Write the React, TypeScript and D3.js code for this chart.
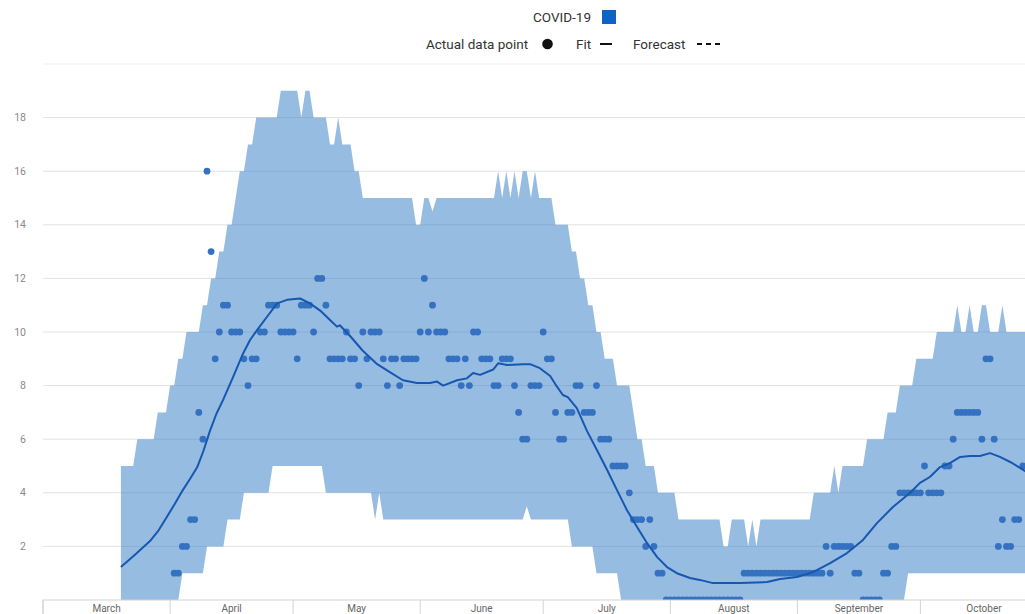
import React from "react";
import * as d3 from "d3";

// ---------- data (day offsets are counted from 1 March 2020) ----------
const START = Date.UTC(2020, 2, 1);
const END = Date.UTC(2020, 10, 1);
const DAY = 864e5;

const monthNames = ["March", "April", "May", "June", "July", "August", "September", "October"];
const yTickValues = [2, 4, 6, 8, 10, 12, 14, 16, 18];
const gridValues = [2, 4, 6, 8, 10, 12, 14, 16, 18, 20];

// prediction band, daily, as [value, number of days] runs starting at bandStartDay
const bandStartDay = 19;
const upperRuns: [number, number][] = [
  [5, 4], [6, 5], [7, 3], [8, 2], [9, 2], [10, 4], [11, 2], [12, 2], [13, 2], [14, 2],
  [15, 1], [16, 2], [17, 2], [18, 6], [19, 5], [18, 1], [19, 2], [18, 4], [17, 2], [18, 1],
  [17, 3], [16, 2], [15, 13], [14, 2], [15, 2], [14.5, 1], [15, 15],
  [16, 1], [15, 1], [16, 1], [15, 1], [16, 1], [15, 1], [16, 2], [15, 1], [16, 1],
  [15, 4], [14, 4], [13, 2], [12, 2], [11, 2], [10, 2], [9, 3], [8, 4], [7, 1], [6, 2],
  [5, 3], [4, 5], [3, 11], [2, 2], [3, 4], [2, 1], [3, 1], [2, 1], [3, 13], [4, 5],
  [5, 1], [4, 1], [5, 6], [6, 5], [7, 3], [8, 4], [9, 5], [10, 5], [11, 1], [10, 2],
  [11, 1], [10, 2], [11, 2], [10, 3], [11, 1], [10, 11],
];
const lowerRuns: [number, number][] = [
  [0, 15], [1, 6], [2, 5], [3, 4], [4, 7], [5, 13], [4, 12], [3, 1], [4, 1], [3, 35],
  [3.5, 1], [3, 10], [2, 6], [1, 6], [0, 70], [1, 35],
];

// actual daily counts, starting at actualStartDay
const actualStartDay = 32;
const actualValues = [
  1, 1, 2, 2, 3, 3, 7, 6, 16, 13,
  9, 10, 11, 11, 10, 10, 10, 9, 8, 9,
  9, 10, 10, 11, 11, 11, 10, 10, 10, 10,
  9, 11, 11, 11, 10, 12, 12, 11, 9, 9,
  9, 9, 10, 9, 9, 8, 10, 9, 10, 10,
  10, 9, 8, 9, 9, 8, 9, 9, 9, 9,
  10, 12, 10, 11, 10, 10, 10, 9, 9, 9,
  8, 9, 8, 10, 10, 9, 9, 9, 8, 8,
  9, 9, 9, 8, 7, 6, 6, 8, 8, 8,
  10, 9, 9, 7, 6, 6, 7, 7, 8, 8,
  7, 7, 7, 8, 6, 6, 6, 5, 5, 5,
  5, 4, 3, 3, 3, 2, 3, 2, 1, 1,
  0, 0, 0, 0, 0, 0, 0, 0, 0, 0,
  0, 0, 0, 0, 0, 0, 0, 0, 0, 1,
  1, 1, 1, 1, 1, 1, 1, 1, 1, 1,
  1, 1, 1, 1, 1, 1, 1, 1, 1, 2,
  1, 2, 2, 2, 2, 2, 1, 1, 0, 0,
  0, 0, 0, 1, 1, 2, 2, 4, 4, 4,
  4, 4, 4, 5, 4, 4, 4, 4, 5, 5,
  6, 7, 7, 7, 7, 7, 7, 6, 9, 9,
  6, 2, 3, 2, 2, 3, 3, 5,
];

// fitted curve, read at these day offsets
const fitDays = [
  19, 22.5, 26.1, 28.2, 30.2, 32.2, 34.1, 36, 37.6, 39.1, 40.7, 42.3, 43.9, 46.3, 48.8, 50.5, 52.2, 54.6, 57.1, 59.5, 62.7, 65.1,
  67.6, 70, 71.7, 72.4, 74.9, 78, 81.5, 84.6, 87.8, 91.2, 94.4, 96.1, 97.6, 101, 103.4,
  104.9, 106.6, 109.8, 111, 113.2, 117.1, 118.8, 121.2, 123.7, 125.4, 126.8, 128, 130.2,
  132.7, 135.1, 137.6, 140, 142.4, 144.9, 147.3, 149.8, 152.2, 154.6, 157.8, 160.2, 163.4,
  170, 176.6, 179.8, 183.9, 187.8, 192, 196.1, 200, 203.4, 207.3, 211.5, 213.9, 216.3,
  218.8, 221.2, 223.7, 226.1, 228.5, 231, 233.4, 235.9, 238.3, 240.7,
];
const fitValues = [
  1.23, 1.7, 2.2, 2.6, 3.1, 3.6, 4.1, 4.55, 4.95, 5.55, 6.3, 6.95, 7.46, 8.3, 9.2, 9.7, 10.07, 10.56, 11.07, 11.2, 11.25, 11.07,
  10.8, 10.45, 10.2, 10.25, 9.85, 9.3, 8.8, 8.5, 8.2, 8.1, 8.1, 8.15, 8.0, 8.2, 8.27,
  8.47, 8.4, 8.6, 8.83, 8.77, 8.8, 8.8, 8.65, 8.36, 7.95, 7.65, 7.57, 7.16,
  6.3, 5.6, 4.85, 4.1, 3.36, 2.72, 2.13, 1.6, 1.23, 1.0, 0.82, 0.75, 0.63,
  0.63, 0.67, 0.78, 0.86, 1.04, 1.38, 1.75, 2.24, 2.87, 3.47, 4.0, 4.37, 4.59,
  4.96, 5.11, 5.34, 5.37, 5.37, 5.48, 5.34, 5.15, 4.93, 4.7,
];

// ---------- chart ----------
const FONT = "Roboto, 'Noto Sans', sans-serif";

export default function App() {
  const W = 1025;
  const H = 614;
  const dayToDate = (d: number) => new Date(START + d * DAY);

  const x = d3
    .scaleUtc()
    .domain([new Date(START), new Date(END)])
    .range([43, 43 + 245 * 4.1]);
  const y = d3.scaleLinear().domain([0, 20]).range([600, 64]);

  const expand = (runs: [number, number][]) => runs.flatMap(([v, n]) => Array(n).fill(v));
  const upper = expand(upperRuns);
  const lower = expand(lowerRuns);
  const band = upper.map((u, i) => ({ date: dayToDate(bandStartDay + i), hi: u, lo: lower[i] }));

  const areaGen = d3
    .area<{ date: Date; hi: number; lo: number }>()
    .x((d) => x(d.date))
    .y0((d) => y(d.lo))
    .y1((d) => y(d.hi));

  const fit = fitDays.map((d, i) => ({ date: dayToDate(d), v: fitValues[i] }));
  const lineGen = d3
    .line<{ date: Date; v: number }>()
    .x((d) => x(d.date))
    .y((d) => y(d.v));

  const actual = actualValues.map((v, i) => ({ date: dayToDate(actualStartDay + i), v }));

  const monthStarts = d3.utcMonth.range(new Date(START), new Date(END));
  const axisTop = y(0);

  return (
    <svg
      width={W}
      height={H}
      style={{ position: "absolute", left: 0, top: 0, background: "#fff" }}
      fontFamily={FONT}
    >
      {/* legend */}
      <text x={591} y={22} textAnchor="end" fontSize={13.5} fill="#333">COVID-19</text>
      <rect x={602} y={10} width={14} height={14} fill="#0f62c6" />
      <text x={426} y={49} fontSize={13.5} fill="#333">Actual data point</text>
      <circle cx={547.5} cy={44} r={5.3} fill="#111" />
      <text x={576} y={49} fontSize={13.5} fill="#333">Fit</text>
      <line x1={600} x2={612} y1={44} y2={44} stroke="#111" strokeWidth={2} />
      <text x={633} y={49} fontSize={13.5} fill="#333">Forecast</text>
      <line x1={697} x2={721} y1={44} y2={44} stroke="#111" strokeWidth={2} strokeDasharray="5,4" />

      {/* grid */}
      {gridValues.map((v) => (
        <line key={v} x1={43} x2={W} y1={y(v)} y2={y(v)} stroke={v === 20 ? "#f0f0f0" : "#e2e2e2"} strokeWidth={1} />
      ))}
      {yTickValues.map((v) => (
        <text key={v} x={26} y={y(v)} dy="0.35em" textAnchor="end" fontSize={10.5} fill="#8a8a8a">
          {v}
        </text>
      ))}

      {/* band */}
      <path d={areaGen(band) || ""} fill="rgb(45,121,197)" fillOpacity={0.5} />

      {/* actual points */}
      {actual.map((p, i) => (
        <circle key={i} cx={x(p.date)} cy={y(p.v)} r={3.4} fill="#3571c1" />
      ))}

      {/* fit line */}
      <path d={lineGen(fit) || ""} fill="none" stroke="#1657b0" strokeWidth={2} strokeLinejoin="round" />

      {/* month axis */}
      <rect x={43} y={axisTop} width={W + 40} height={40} fill="#fff" stroke="#d4d4d4" strokeWidth={1} />
      {monthStarts.map((m, i) => {
        const next = d3.utcMonth.offset(m, 1);
        const mid = new Date((m.getTime() + next.getTime()) / 2);
        return (
          <g key={i}>
            <line x1={x(m)} x2={x(m)} y1={axisTop} y2={H} stroke="#d4d4d4" />
            <text x={x(mid)} y={612} textAnchor="middle" fontSize={10} fill="#666">
              {monthNames[i]}
            </text>
          </g>
        );
      })}
    </svg>
  );
}
